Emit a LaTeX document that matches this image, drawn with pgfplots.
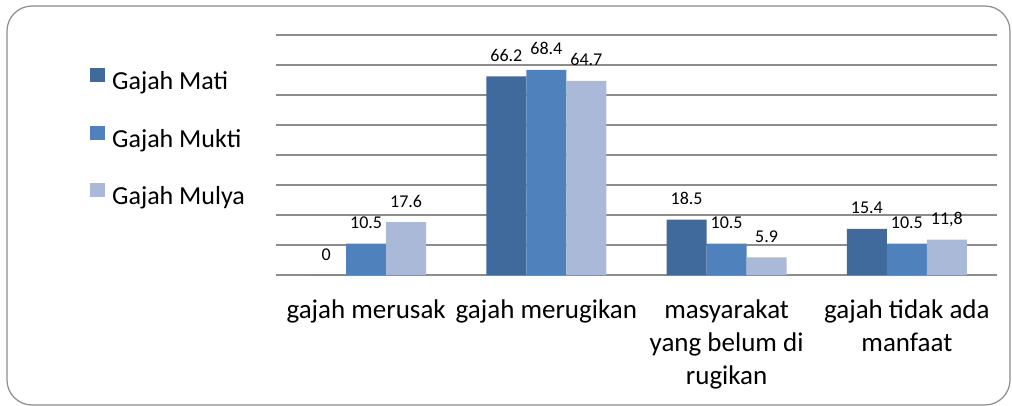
\documentclass[border=0pt]{standalone}
\usepackage{fontspec}
\setmainfont{Carlito}
\usepackage{pgfplots}
\pgfplotsset{compat=1.18}
\definecolor{cMati}{RGB}{64,105,156}
\definecolor{cMukti}{RGB}{79,129,189}
\definecolor{cMulya}{RGB}{170,185,215}
\definecolor{gridc}{RGB}{140,140,140}
\begin{document}
\begin{tikzpicture}
\useasboundingbox (0,0) rectangle (1012bp,406bp);
\draw[gridc, line width=1.2bp, rounded corners=25bp] (7bp,1bp) rectangle (1010bp,400bp);
\begin{axis}[
  at={(276bp,131bp)}, anchor=south west,
  scale only axis, width=721bp, height=240bp,
  xmin=-0.5, xmax=3.5, ymin=0, ymax=80,
  ybar=0pt, bar width=40bp,
  xtick={0,1,2,3},
  xticklabels={gajah merusak, gajah merugikan, {masyarakat\\yang belum di\\rugikan}, {gajah tidak ada\\manfaat}},
  ytick={0,10,...,80}, yticklabels={},
  ymajorgrids, grid style={gridc, line width=1.5bp},
  axis line style={draw=none},
  major tick length=0pt,
  xticklabel style={font=\fontsize{27bp}{33bp}\selectfont, align=center, anchor=north, inner sep=0pt, yshift=-25bp},
  clip=false,
  point meta=explicit symbolic,
  nodes near coords={\pgfplotspointmeta},
  every node near coord/.append style={font=\fontsize{18bp}{20bp}\selectfont, anchor=base, inner sep=0pt, yshift=15bp, text=black},
  legend style={at={(-0.258,0.565)}, anchor=west, draw=none, fill=none, inner sep=0pt,
    font=\fontsize{26bp}{30bp}\selectfont, row sep=30bp, column sep=7bp,
    nodes={inner sep=0pt, text height=18bp, text depth=6bp},
    cells={anchor=west}},
  legend image code/.code={\fill[#1] (0bp,1.5bp) rectangle (15bp,15.5bp);},
]
\addplot[fill=cMati, draw=none] coordinates {(0,0) [0] (1,66.2) [66.2] (2,18.5) [18.5] (3,15.4) [15.4]};
\addplot[fill=cMukti, draw=none] coordinates {(0,10.5) [10.5] (1,68.4) [68.4] (2,10.5) [10.5] (3,10.5) [10.5]};
\addplot[fill=cMulya, draw=none] coordinates {(0,17.6) [17.6] (1,64.7) [64.7] (2,5.9) [5.9] (3,11.8) [11,8]};
\legend{Gajah Mati, Gajah Mukti, Gajah Mulya}
\end{axis}
\end{tikzpicture}
\end{document}
